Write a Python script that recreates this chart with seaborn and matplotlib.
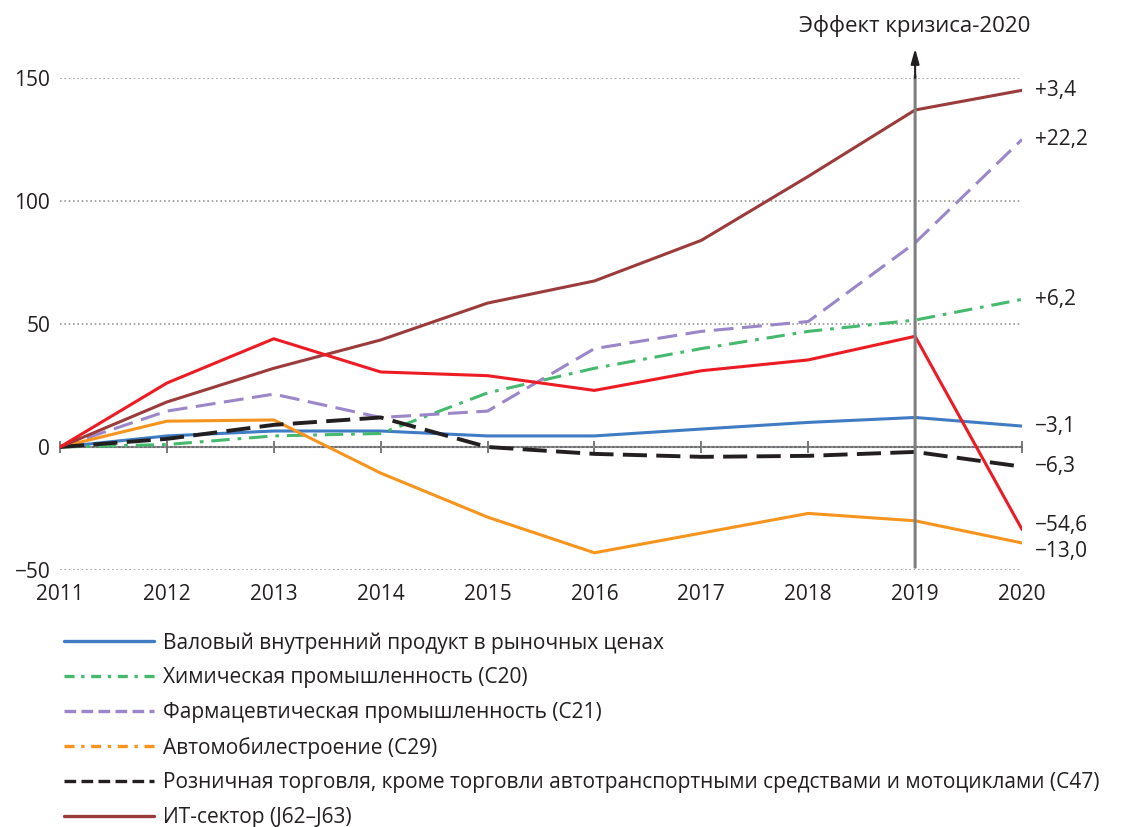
import pandas as pd
import matplotlib.pyplot as plt
import seaborn as sns
from matplotlib.lines import Line2D

years = list(range(2011, 2021))

gdp = [0, 4.5, 6.5, 6.5, 4.5, 4.5, 7.3, 10, 12, 8.5]
chem = [0, 1, 4.5, 5.5, 22, 32, 40, 47, 51.6, 60]
pharma = [0, 14.6, 21.5, 12, 14.6, 40, 47, 51, 83, 125]
auto = [0, 10.5, 11, -10.6, -28.5, -43, -35, -27, -30, -39]
retail = [0, 3.3, 9, 12, 0, -2.8, -4, -3.6, -2, -8]
it = [0, 18.3, 32, 43.5, 58.5, 67.5, 84, 110, 137, 145]
other = [0, 26, 44, 30.5, 29, 23, 31, 35.4, 45, -33.5]

legend_labels = [
    "Валовый внутренний продукт в рыночных ценах",
    "Химическая промышленность (C20)",
    "Фармацевтическая промышленность (C21)",
    "Автомобилестроение (C29)",
    "Розничная торговля, кроме торговли автотранспортными средствами и мотоциклами (C47)",
    "ИТ-сектор (J62–J63)",
]
end_labels = ["−3,1", "+6,2", "+22,2", "−13,0", "−6,3", "+3,4", "−54,6"]
# vertical shift of the end labels, points (positive = up)
end_offsets = [0, 0, 0, -6, 0, 0, 3]

blue, green, purple, orange = "#3f7cc4", "#45b96e", "#9a86c8", "#f7941d"
black, brown, red = "#231f20", "#9b3b3b", "#ed1c24"

sns.set_style("white")
plt.rcParams["font.family"] = ["Open Sans", "DejaVu Sans"]
plt.rcParams["text.color"] = "#231f20"

series = [
    (gdp, blue, "-", 2.2),
    (chem, green, (0, (6, 2.6, 1.2, 2.6)), 2.2),
    (pharma, purple, (0, (6.5, 2.8)), 2.2),
    (auto, orange, "-", 2.2),
    (retail, black, (0, (6.2, 2.4)), 2.8),
    (it, brown, "-", 2.2),
    (other, red, "-", 2.2),
]

fig = plt.figure(figsize=(11.21, 8.27), dpi=100)
ax = fig.add_axes([60 / 1121, 1 - 570 / 827, 962 / 1121, 492 / 827])

for vals, col, ls, lw in series:
    df = pd.DataFrame({"year": years, "value": vals})
    sns.lineplot(data=df, x="year", y="value", color=col, linestyle=ls,
                 linewidth=lw, ax=ax, zorder=3)

ax.set_xlim(2011, 2020)
ax.set_ylim(-50, 150)
ax.set_xticks(years)
ax.set_yticks([-50, 0, 50, 100, 150])
ax.set_yticklabels(["−50", "0", "50", "100", "150"])
ax.set_xlabel("")
ax.set_ylabel("")
for s in ax.spines.values():
    s.set_visible(False)
ax.tick_params(axis="both", length=0, labelsize=15, colors="#231f20")
ax.tick_params(axis="y", pad=7)
ax.tick_params(axis="x", pad=10)
ax.yaxis.grid(True, linestyle=(0, (1, 1.6)), color="#9a9a9a", linewidth=1.2)
ax.xaxis.grid(False)

# zero axis with ticks
ymin, ymax = ax.get_ylim()
sec = ax.secondary_xaxis((0 - ymin) / (ymax - ymin))
sec.set_xticks(years)
sec.tick_params(direction="inout", length=8, width=1.3, color="#6d6e71",
                labelbottom=False)
for name, s in sec.spines.items():
    s.set_visible(name == "bottom")
sec.spines["bottom"].set_color("#6d6e71")
sec.spines["bottom"].set_linewidth(1.5)

# crisis marker
ax.annotate("", xy=(2019, 152), xytext=(2019, -50),
            arrowprops=dict(arrowstyle="-", color="#7f7f7f", lw=2.2),
            annotation_clip=False, zorder=5)
ax.annotate("", xy=(2019, 162), xytext=(2019, 150),
            arrowprops=dict(arrowstyle="-|>,head_length=0.9,head_width=0.25",
                            color="#231f20", lw=1.5, shrinkA=0, shrinkB=0),
            annotation_clip=False, zorder=5)
ax.text(2019, 171, "Эффект кризиса-2020", ha="center", va="center",
        fontsize=16, clip_on=False)

for (vals, col, ls, lw), lab, off in zip(series, end_labels, end_offsets):
    ax.annotate(lab, xy=(2020, vals[-1]), xytext=(9, off),
                textcoords="offset points", ha="left", va="center",
                fontsize=15, annotation_clip=False)

handles = [
    Line2D([], [], color=blue, lw=2.4),
    Line2D([], [], color=green, lw=2.4, linestyle=(0, (3, 2, 1, 2))),
    Line2D([], [], color=purple, lw=2.4, linestyle=(0, (3.5, 1.6))),
    Line2D([], [], color=orange, lw=2.4, linestyle=(0, (3, 2, 1, 2))),
    Line2D([], [], color=black, lw=2.4, linestyle=(0, (3.5, 1.6))),
    Line2D([], [], color=brown, lw=2.4),
]
fig.legend(handles, legend_labels, loc="upper left",
           bbox_to_anchor=(64 / 1121, 1 - 632 / 827), frameon=False,
           fontsize=15, handlelength=4.3, handletextpad=0.45,
           labelspacing=0.66, borderaxespad=0, borderpad=0)

fig.savefig("out.png", dpi=100)
